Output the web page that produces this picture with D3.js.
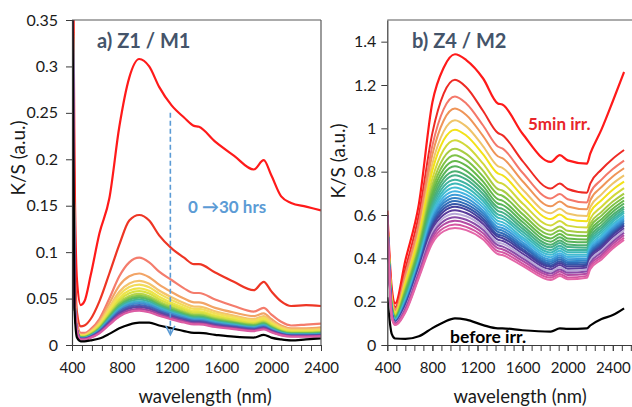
<!DOCTYPE html>
<html><head><meta charset="utf-8">
<script src="https://cdn.jsdelivr.net/npm/d3@7"></script>
<style>
body{margin:0;background:#fff}
svg{display:block}
text{font-family:Lato, "Open Sans", sans-serif}
</style>
</head><body>
<svg id="c" width="632" height="407"></svg>
<script>
// ---------- Panel a) Z1 / M1 ----------
const aWavelengths = [400,420,440,470,500,550,620,700,780,860,940,1020,1100,1200,1300,1380,1420,1550,1700,1860,1940,2000,2080,2160,2280,2400];
const aXTicks = [400,800,1200,1600,2000,2400];
const aYTicks = [0,0.05,0.1,0.15,0.2,0.25,0.3,0.35];
const aTop = [
  [0.6,0.2,0.07,0.043,0.047,0.075,0.12,0.158,0.235,0.288,0.308,0.300,0.278,0.258,0.245,0.236,0.235,0.219,0.204,0.189,0.199,0.183,0.160,0.153,0.149,0.145],
  [0.6,0.12,0.035,0.02,0.021,0.028,0.047,0.077,0.108,0.134,0.140,0.134,0.118,0.104,0.094,0.087,0.087,0.078,0.068,0.059,0.068,0.058,0.047,0.042,0.043,0.042],
  [0.55,0.08,0.025,0.013,0.013,0.017,0.028,0.050,0.074,0.089,0.094,0.089,0.079,0.070,0.061,0.056,0.056,0.049,0.042,0.036,0.040,0.033,0.025,0.021,0.022,0.023],
  [0.5,0.06,0.02,0.011,0.011,0.015,0.025,0.045,0.064,0.074,0.077,0.073,0.065,0.057,0.050,0.046,0.046,0.040,0.035,0.031,0.034,0.028,0.021,0.018,0.018,0.019]
];
const aBand = [
  [0.5,0.05,0.016,0.011,0.011,0.0145,0.0235,0.0407,0.0573,0.0662,0.069,0.0659,0.0587,0.0514,0.0452,0.0414,0.0414,0.0362,0.0317,0.0279,0.0311,0.0255,0.0193,0.0166,0.0166,0.0173],
  [0.5,0.05,0.016,0.0104,0.0104,0.0137,0.0221,0.0384,0.054,0.0624,0.065,0.0621,0.0553,0.0484,0.0426,0.039,0.039,0.0341,0.0299,0.0263,0.0293,0.0241,0.0182,0.0156,0.0156,0.0163],
  [0.5,0.05,0.016,0.0098,0.0098,0.0128,0.0207,0.036,0.0506,0.0586,0.061,0.0583,0.0519,0.0454,0.040,0.0366,0.0366,0.032,0.0281,0.0247,0.0275,0.0226,0.0171,0.0146,0.0146,0.0153],
  [0.5,0.05,0.016,0.0093,0.0093,0.0122,0.0197,0.0342,0.0481,0.0557,0.058,0.0554,0.0493,0.0432,0.038,0.0348,0.0348,0.0305,0.0267,0.0235,0.0261,0.0215,0.0162,0.0139,0.0139,0.0145],
  [0.5,0.05,0.016,0.0088,0.0088,0.0116,0.0187,0.0325,0.0457,0.0528,0.055,0.0525,0.0468,0.041,0.036,0.033,0.033,0.0289,0.0253,0.0223,0.0248,0.0204,0.0154,0.0132,0.0132,0.0138],
  [0.5,0.05,0.016,0.0085,0.0085,0.0111,0.018,0.0313,0.044,0.0509,0.053,0.0506,0.045,0.0395,0.0347,0.0318,0.0318,0.0278,0.0244,0.0215,0.0239,0.0196,0.0148,0.0127,0.0127,0.0133],
  [0.5,0.05,0.016,0.0082,0.0082,0.0107,0.0173,0.0301,0.0423,0.049,0.051,0.0487,0.0434,0.038,0.0334,0.0306,0.0306,0.0268,0.0235,0.0207,0.023,0.0189,0.0143,0.0122,0.0122,0.0128],
  [0.5,0.05,0.016,0.0078,0.0078,0.0103,0.0167,0.0289,0.0407,0.047,0.049,0.0468,0.0417,0.0365,0.0321,0.0294,0.0294,0.0257,0.0225,0.0198,0.0221,0.0181,0.0137,0.0118,0.0118,0.0123],
  [0.5,0.05,0.016,0.0075,0.0075,0.0099,0.016,0.0277,0.039,0.0451,0.047,0.0449,0.04,0.035,0.0308,0.0282,0.0282,0.0247,0.0216,0.019,0.0212,0.0174,0.0132,0.0113,0.0113,0.0118],
  [0.5,0.05,0.016,0.0072,0.0072,0.0095,0.0153,0.0266,0.0374,0.0432,0.045,0.043,0.0383,0.0335,0.0295,0.027,0.027,0.0236,0.0207,0.0182,0.0203,0.0167,0.0126,0.0108,0.0108,0.0113],
  [0.5,0.05,0.016,0.0069,0.0069,0.009,0.0146,0.0254,0.0357,0.0413,0.043,0.0411,0.0366,0.032,0.0282,0.0258,0.0258,0.0226,0.0198,0.0174,0.0194,0.0159,0.012,0.0103,0.0103,0.0108],
  [0.5,0.05,0.016,0.0066,0.0066,0.0086,0.0139,0.0242,0.034,0.0394,0.041,0.0392,0.0349,0.0305,0.0269,0.0246,0.0246,0.0215,0.0189,0.0166,0.0185,0.0152,0.0115,0.0098,0.0098,0.0103],
  [0.5,0.05,0.016,0.0062,0.0062,0.0082,0.0133,0.023,0.0324,0.0374,0.039,0.0372,0.0332,0.0291,0.0255,0.0234,0.0234,0.0205,0.0179,0.0158,0.0176,0.0144,0.0109,0.0094,0.0094,0.0098],
  [0.5,0.05,0.016,0.0059,0.0059,0.0078,0.0126,0.0218,0.0307,0.0355,0.037,0.0353,0.0315,0.0276,0.0242,0.0222,0.0222,0.0194,0.017,0.015,0.0167,0.0137,0.0104,0.0089,0.0089,0.0093]
];
const aBlack = [0.45,0.04,0.008,0.004,0.004,0.005,0.007,0.012,0.018,0.022,0.024,0.024,0.021,0.018,0.015,0.013,0.013,0.011,0.009,0.008,0.011,0.008,0.006,0.005,0.006,0.007];
const aTopColors = ['#FF1A1A','#EE3524','#F47C6C','#F2A466'];
const aBandColors = ['#F5C46C','#F2DC5A','#EDE44A','#D8E040','#B4D448','#86C64E','#5CB860','#44B494','#40B0C8','#4090D0','#4466B8','#5A48A4','#A0449E','#DC5CA4'];
const aArrow = {wl:1190, from:0.25, to:0.011};

// ---------- Panel b) Z4 / M2 ----------
const bWavelengths = [400,440,470,560,680,800,900,1000,1100,1250,1380,1420,1600,1850,1930,2000,2170,2200,2300,2400,2500];
const bXTicks = [400,800,1200,1600,2000,2400];
const bYTicks = [0,0.2,0.4,0.6,0.8,1,1.2,1.4];
const b5min = [0.62,0.26,0.192,0.39,0.65,1.12,1.28,1.342,1.315,1.23,1.115,1.11,0.975,0.845,0.876,0.852,0.837,0.883,0.995,1.125,1.26];
const bBand = [
  [0.60,0.240,0.175,0.350,0.600,0.979,1.160,1.224,1.190,1.080,0.979,0.969,0.849,0.722,0.745,0.720,0.703,0.745,0.810,0.860,0.900],
  [0.60,0.225,0.165,0.328,0.565,0.921,1.089,1.147,1.115,1.013,0.916,0.907,0.795,0.676,0.697,0.673,0.658,0.701,0.763,0.812,0.851],
  [0.60,0.215,0.158,0.311,0.542,0.879,1.036,1.091,1.062,0.964,0.871,0.862,0.756,0.640,0.662,0.639,0.626,0.668,0.729,0.778,0.816],
  [0.60,0.205,0.151,0.296,0.519,0.838,0.986,1.037,1.009,0.917,0.826,0.818,0.718,0.608,0.629,0.607,0.595,0.637,0.695,0.745,0.783],
  [0.60,0.198,0.146,0.283,0.500,0.806,0.946,0.994,0.967,0.880,0.792,0.784,0.687,0.581,0.602,0.581,0.571,0.611,0.668,0.717,0.754],
  [0.60,0.190,0.140,0.268,0.478,0.768,0.901,0.945,0.920,0.837,0.752,0.745,0.653,0.552,0.572,0.551,0.542,0.582,0.638,0.686,0.724],
  [0.60,0.183,0.135,0.257,0.461,0.739,0.864,0.906,0.882,0.804,0.720,0.713,0.625,0.527,0.547,0.527,0.520,0.560,0.614,0.662,0.699],
  [0.60,0.178,0.131,0.249,0.449,0.717,0.836,0.876,0.853,0.777,0.696,0.689,0.604,0.509,0.529,0.509,0.503,0.543,0.597,0.645,0.682],
  [0.60,0.174,0.128,0.241,0.438,0.698,0.811,0.849,0.828,0.754,0.673,0.666,0.584,0.492,0.512,0.492,0.487,0.527,0.580,0.629,0.667],
  [0.60,0.170,0.125,0.233,0.428,0.681,0.789,0.825,0.804,0.733,0.653,0.647,0.568,0.477,0.497,0.478,0.474,0.514,0.566,0.615,0.653],
  [0.60,0.167,0.123,0.227,0.419,0.663,0.768,0.802,0.782,0.714,0.635,0.628,0.551,0.463,0.482,0.464,0.460,0.500,0.552,0.601,0.639],
  [0.60,0.164,0.121,0.222,0.411,0.649,0.750,0.783,0.764,0.697,0.619,0.612,0.537,0.451,0.471,0.452,0.449,0.489,0.541,0.590,0.629],
  [0.60,0.160,0.118,0.215,0.404,0.635,0.732,0.763,0.745,0.680,0.603,0.596,0.523,0.438,0.458,0.439,0.438,0.478,0.530,0.579,0.618],
  [0.60,0.158,0.117,0.210,0.396,0.622,0.715,0.745,0.728,0.665,0.588,0.582,0.510,0.427,0.446,0.428,0.428,0.469,0.519,0.569,0.609],
  [0.60,0.155,0.115,0.205,0.389,0.609,0.699,0.727,0.710,0.649,0.573,0.567,0.497,0.416,0.435,0.417,0.417,0.458,0.508,0.558,0.598],
  [0.60,0.152,0.113,0.200,0.383,0.597,0.683,0.710,0.694,0.635,0.559,0.553,0.486,0.405,0.424,0.406,0.408,0.449,0.498,0.549,0.589],
  [0.60,0.150,0.111,0.195,0.376,0.585,0.668,0.694,0.679,0.620,0.545,0.540,0.474,0.395,0.414,0.396,0.398,0.439,0.489,0.540,0.580],
  [0.60,0.148,0.109,0.191,0.370,0.574,0.655,0.679,0.664,0.608,0.534,0.528,0.463,0.386,0.405,0.387,0.390,0.430,0.480,0.531,0.571],
  [0.60,0.146,0.108,0.186,0.364,0.564,0.642,0.665,0.650,0.596,0.522,0.516,0.454,0.377,0.396,0.378,0.382,0.423,0.472,0.523,0.563],
  [0.60,0.144,0.106,0.182,0.359,0.554,0.629,0.651,0.637,0.584,0.510,0.505,0.443,0.368,0.387,0.370,0.374,0.415,0.464,0.515,0.556],
  [0.60,0.142,0.105,0.179,0.354,0.545,0.616,0.638,0.625,0.572,0.500,0.494,0.434,0.360,0.379,0.362,0.366,0.408,0.456,0.508,0.549],
  [0.60,0.140,0.103,0.174,0.347,0.533,0.601,0.622,0.609,0.559,0.486,0.481,0.422,0.350,0.369,0.352,0.357,0.399,0.447,0.498,0.539],
  [0.60,0.137,0.101,0.169,0.340,0.521,0.587,0.606,0.594,0.545,0.473,0.468,0.411,0.340,0.359,0.342,0.348,0.389,0.437,0.488,0.530],
  [0.60,0.134,0.099,0.165,0.333,0.509,0.572,0.590,0.578,0.531,0.461,0.455,0.400,0.330,0.349,0.333,0.339,0.379,0.427,0.477,0.518],
  [0.60,0.131,0.096,0.160,0.325,0.495,0.556,0.573,0.562,0.516,0.447,0.442,0.388,0.320,0.339,0.323,0.329,0.370,0.415,0.466,0.507],
  [0.60,0.128,0.094,0.155,0.317,0.482,0.540,0.556,0.545,0.501,0.433,0.428,0.376,0.310,0.328,0.312,0.319,0.359,0.405,0.455,0.495],
  [0.60,0.125,0.092,0.150,0.310,0.470,0.525,0.540,0.530,0.487,0.420,0.415,0.365,0.300,0.318,0.303,0.310,0.350,0.395,0.445,0.485]
];
const bBefore = [0.22,0.05,0.03,0.028,0.040,0.078,0.105,0.123,0.117,0.092,0.077,0.077,0.068,0.062,0.077,0.074,0.077,0.09,0.12,0.138,0.169];
const b5minColor = '#FF1A1A';
const bBandColors = ['#EE2A24','#F4786A','#EF9558','#EFC46A','#F3E21A','#D2D83A','#A8CC44','#7FC248','#66B84A','#58B45A','#4EB070','#46B088','#40B4A0','#3CB8B8','#42BCD0','#44B4E0','#3C9CD8','#3484C8','#306CB8','#3656A8','#44409C','#5A3C9C','#B8A8D8','#8A4CA8','#B44CA4','#D456A2','#E466A8'];

// ---------- drawing ----------
const svg = d3.select('#c');
const defs = svg.append('defs');
const AX = '#3a3a3a';

function drawPanel(p) {
  const x = d3.scaleLinear().domain(p.xDomain).range(p.xRange);
  const y = d3.scaleLinear().domain(p.yDomain).range([345, 20]);
  const g = svg.append('g');
  defs.append('clipPath').attr('id', p.id).append('rect')
    .attr('x', p.xRange[0]).attr('y', 20)
    .attr('width', Math.min(p.xRange[1], 632) - p.xRange[0]).attr('height', 325);
  const line = d3.line().x((d, i) => x(p.wl[i])).y(d => y(d)).curve(d3.curveMonotoneX);
  const cg = g.append('g').attr('clip-path', `url(#${p.id})`);
  p.series.forEach(s => {
    cg.append('path').attr('d', line(s.v)).attr('fill', 'none')
      .attr('stroke', s.c).attr('stroke-width', s.w || 2).attr('stroke-linejoin', 'round');
  });
  // frame
  g.append('line').attr('x1', p.xRange[0]).attr('x2', Math.min(p.xRange[1], 640)).attr('y1', 20).attr('y2', 20)
    .attr('stroke', '#595959').attr('stroke-width', 1.2);
  if (p.rightFrame) g.append('line').attr('x1', p.xRange[1]).attr('x2', p.xRange[1]).attr('y1', 20).attr('y2', 345)
    .attr('stroke', '#595959').attr('stroke-width', 1.2);
  // minor x ticks
  const minor = d3.range(p.xDomain[0], p.minorEnd + 1, 80);
  const xm = g.append('g').attr('transform', 'translate(0,345)')
    .call(d3.axisBottom(x).tickValues(minor).tickSize(6).tickSizeOuter(0).tickFormat(''));
  xm.select('.domain').remove();
  xm.selectAll('line').attr('stroke', AX);
  // major x axis
  const xa = g.append('g').attr('transform', 'translate(0,345)')
    .call(d3.axisBottom(x).tickValues(p.xTicks).tickSize(6).tickSizeOuter(0).tickPadding(11)
      .tickFormat(d => String(d)));
  xa.select('.domain').attr('stroke', AX).attr('stroke-width', 1.2);
  xa.selectAll('line').attr('stroke', AX);
  xa.selectAll('text').attr('font-size', 15).attr('fill', '#1a1a1a').attr('font-family', 'Lato');
  // y axis
  const ya = g.append('g').attr('transform', `translate(${p.xRange[0]},0)`)
    .call(d3.axisLeft(y).tickValues(p.yTicks).tickSize(6).tickSizeOuter(0).tickPadding(p.yPad)
      .tickFormat(d => String(d)));
  ya.select('.domain').attr('stroke', AX).attr('stroke-width', 1.2);
  ya.selectAll('line').attr('stroke', AX);
  ya.selectAll('text').attr('font-size', 16).attr('fill', '#1a1a1a').attr('font-family', 'Lato');
  // axis titles
  g.append('text').attr('transform', `translate(${p.yLabelX},${p.yLabelY}) rotate(-90)`)
    .attr('text-anchor', 'middle').attr('font-size', 19).attr('fill', '#1a1a1a').text('K/S (a.u.)');
  g.append('text').attr('x', p.xLabelX).attr('y', 403).attr('text-anchor', 'middle')
    .attr('font-size', 18.5).attr('fill', '#1a1a1a').text('wavelength (nm)');
  g.append('text').attr('x', p.titleX).attr('y', 48).attr('font-size', 20).attr('font-weight', 'bold')
    .attr('fill', '#44546A').text(p.title);
  return {x, y, g};
}

const pa = drawPanel({
  id: 'clipA', xDomain: [400, 2400], xRange: [72, 321], yDomain: [0, 0.35], minorEnd: 2400,
  wl: aWavelengths, xTicks: aXTicks, yTicks: aYTicks, yPad: 8, rightFrame: true,
  yLabelX: 25, yLabelY: 158, xLabelX: 205, titleX: 97, title: 'a) Z1 / M1',
  series: [
    ...aTop.map((v, i) => ({v, c: aTopColors[i], w: 2.2})),
    ...aBand.map((v, i) => ({v, c: aBandColors[i], w: 2.2})),
    {v: aBlack, c: '#000', w: 2.2}
  ]
});

const pb = drawPanel({
  id: 'clipB', xDomain: [400, 2600], xRange: [387.3, 635.35], yDomain: [0, 1.5], minorEnd: 2560,
  wl: bWavelengths, xTicks: bXTicks, yTicks: bYTicks, yPad: 5, rightFrame: false,
  yLabelX: 345, yLabelY: 161, xLabelX: 520, titleX: 412, title: 'b) Z4 / M2',
  series: [
    {v: b5min, c: b5minColor, w: 2.2},
    ...bBand.map((v, i) => ({v, c: bBandColors[i], w: 2})),
    {v: bBefore, c: '#000', w: 2.2}
  ]
});

// arrow annotation in panel a
const ax = pa.x(aArrow.wl), ay1 = pa.y(aArrow.from), ay2 = pa.y(aArrow.to);
pa.g.append('line').attr('x1', ax).attr('x2', ax).attr('y1', ay1).attr('y2', ay2 - 1)
  .attr('stroke', '#5B9BD5').attr('stroke-width', 1.6).attr('stroke-dasharray', '5,3');
pa.g.append('path').attr('d', `M${ax - 4.5},${ay2 - 9}L${ax},${ay2}L${ax + 4.5},${ay2 - 9}`)
  .attr('fill', 'none').attr('stroke', '#5B9BD5').attr('stroke-width', 1.6);
pa.g.append('text').attr('x', 188).attr('y', 213).attr('font-size', 17).attr('font-weight', 'bold')
  .attr('fill', '#5B9BD5').text('0 \u219230 hrs');

pb.g.append('text').attr('x', 528).attr('y', 130).attr('font-size', 17).attr('font-weight', 'bold')
  .attr('fill', '#E8262A').text('5min irr.');
pb.g.append('text').attr('x', 450).attr('y', 343).attr('font-size', 17.5).attr('font-weight', 'bold')
  .attr('fill', '#000').text('before irr.');
</script>
</body></html>
